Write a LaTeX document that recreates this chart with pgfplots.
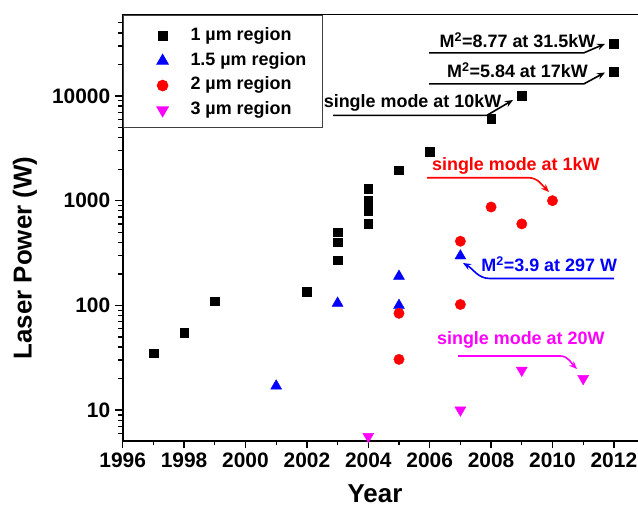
\documentclass[border=0pt]{standalone}
\usepackage{fontspec}
\setmainfont{Liberation Sans}
\usepackage{pgfplots}
\pgfplotsset{compat=1.18}
\usetikzlibrary{arrows.meta}

\definecolor{wlblack}{RGB}{0,0,0}
\definecolor{wlblue}{RGB}{0,0,255}
\definecolor{wlred}{RGB}{255,0,0}
\definecolor{wlmag}{RGB}{255,0,255}

\begin{document}
\begin{tikzpicture}
\begin{axis}[
  at={(122.7bp,-440.7bp)}, anchor=south west,
  scale only axis, width=527.4bp, height=426.2bp,
  xmin=1996, xmax=2013.18, ymin=5.1, ymax=60000,
  ymode=log,
  axis line style={line width=1.6bp},
  every tick/.style={black, line width=1.3bp},
  tick align=outside,
  major tick length=7.5bp, minor tick length=4.3bp,
  xtick pos=left, ytick pos=left,
  xtick={1996,1998,2000,2002,2004,2006,2008,2010,2012},
  xticklabels={1996,1998,2000,2002,2004,2006,2008,2010,2012},
  minor xtick={1997,1999,2001,2003,2005,2007,2009,2011},
  ytick={10,100,1000,10000},
  yticklabels={10,100,1000,10000},
  minor ytick={6,7,8,9,20,30,40,50,60,70,80,90,200,300,400,500,600,700,800,900,2000,3000,4000,5000,6000,7000,8000,9000,20000,30000,40000,50000},
  /pgf/number format/assume math mode=true,
  tick label style={font=\bfseries\fontsize{21}{25}\selectfont},
  xticklabel style={yshift=-1bp},
  yticklabel style={xshift=-1.5bp},
  xlabel={Year}, ylabel={Laser Power (W)},
  label style={font=\bfseries\fontsize{26}{30}\selectfont},
  xlabel style={at={(rel axis cs:0.4784,-0.1245)}, anchor=center},
  ylabel style={at={(rel axis cs:-0.1853,0.4287)}, anchor=center},
  legend cell align=left,
  legend image code/.code={
    \path (-22.7bp,0bp) (27.3bp,0bp);
    \draw[#1] plot coordinates {(0bp,-2bp)};
  },
  legend style={
    at={(rel axis cs:0,1)}, anchor=north west,
    draw=black!75, line width=1.2bp,
    inner xsep=16bp, inner ysep=8.5bp,
    row sep=3.1bp,
    font=\bfseries\fontsize{18}{21}\selectfont,
    nodes={inner sep=0pt, text height=17bp, text depth=4.5bp},
  },
]
% 1 um region
\addplot[only marks, mark=square*, mark size=4.3bp, color=wlblack] coordinates {
  (1997,35) (1998,55) (1999,110) (2002,135)
  (2003,270) (2003,400) (2003,500)
  (2004,600) (2004,800) (2004,1000) (2004,1300)
  (2005,1950) (2006,2950) (2008,6100) (2009,10000)
  (2012,17000) (2012,31500)
};
\addlegendentry{1 µm region}
% 1.5 um region
\addplot[only marks, mark=triangle*, mark size=6.3bp, color=wlblue] coordinates {
  (2001,17) (2003,105) (2005,100) (2005,190) (2007,297)
};
\addlegendentry{1.5 µm region}
% 2 um region
\addplot[only marks, mark=*, mark size=5.2bp, color=wlred] coordinates {
  (2005,30.5) (2005,84) (2007,102) (2007,410) (2008,870) (2009,600) (2010,1000)
};
\addlegendentry{2 µm region}
% 3 um region
\addplot[only marks, mark=triangle*, mark options={rotate=180}, mark size=6.3bp, color=wlmag] coordinates {
  (2004,5.6) (2007,10) (2009,24) (2011,20)
};
\addlegendentry{3 µm region}
\end{axis}

% callouts, in page units measured from the top-left corner
\begin{scope}[x=1bp, y=-1bp, line width=1.6bp,
  font=\bfseries\fontsize{18}{21}\selectfont,
  >={Stealth[length=8bp,width=6.5bp]}]
  \node[anchor=base, inner sep=0pt] at (517.5,47.3) {M\textsuperscript{2}=8.77 at 31.5kW};
  \draw[->] (429,52.8) -- (584,52.8) -- (605,43.8);
  \node[anchor=base, inner sep=0pt] at (517.5,77.3) {M\textsuperscript{2}=5.84 at 17kW};
  \draw[->] (429,83.8) -- (584,83.8) -- (605,72.5);
  \node[anchor=base, inner sep=0pt] at (412.5,107.3) {single mode at 10kW};
  \draw[->] (333,115.3) -- (487,115.3) -- (513,100);
  \node[wlred, anchor=base, inner sep=0pt] at (515.8,170) {single mode at 1kW};
  \draw[wlred, ->] (427,177.7) -- (528,177.7) to[out=0,in=135] (549,192);
  \node[wlblue, anchor=base, inner sep=0pt] at (549.2,271.7) {M\textsuperscript{2}=3.9 at 297 W};
  \draw[wlblue, ->] (614,278.5) -- (490,278.5) to[out=180,in=-30] (463,263);
  \node[wlmag, anchor=base, inner sep=0pt] at (520.8,344) {single mode at 20W};
  \draw[wlmag, ->] (458,356) -- (560,356) to[out=0,in=135] (577,369);
\end{scope}

\pgfresetboundingbox
\path[use as bounding box] (0bp,0bp) rectangle (638bp,-508bp);
\end{tikzpicture}
\end{document}
